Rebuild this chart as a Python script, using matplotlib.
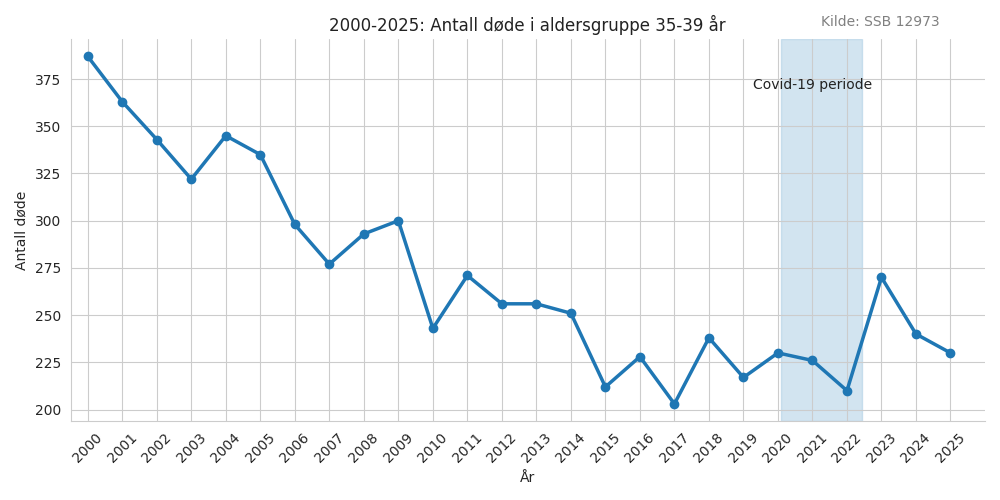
import matplotlib
matplotlib.use("Agg")
import matplotlib.pyplot as plt
import seaborn as sns

years = list(range(2000, 2026))
deaths = [387, 363, 343, 322, 345, 335, 298, 277, 293, 300, 243, 271, 256, 256, 251,
          212, 228, 203, 238, 217, 230, 226, 210, 270, 240, 230]

sns.set_style("whitegrid")
plt.rcParams['font.family'] = ['DejaVu Sans']
fig, ax = plt.subplots(figsize=(10, 5), dpi=100)
ax.axvspan(2020.1, 2022.45, color="#a6cbe3", alpha=0.5, zorder=0)
ax.plot(years, deaths, marker="o", color="#1f77b4", linewidth=2.5, markersize=6)
ax.text(2021, 372, "Covid-19 periode", ha="center", va="center", fontsize=10, color="#222222")
ax.set_xticks(years)
ax.set_xticklabels([str(y) for y in years], rotation=45)
ax.set_ylim(194, 396)
ax.set_xlim(1999.5, 2026)
ax.set_title("2000-2025: Antall døde i aldersgruppe 35-39 år", fontsize=12, color="#222222")
ax.set_xlabel("År")
ax.set_ylabel("Antall døde")
fig.text(0.88, 0.955, "Kilde: SSB 12973", ha="center", va="center", fontsize=10, color="gray")
sns.despine()
fig.tight_layout()
fig.savefig("out.png")
